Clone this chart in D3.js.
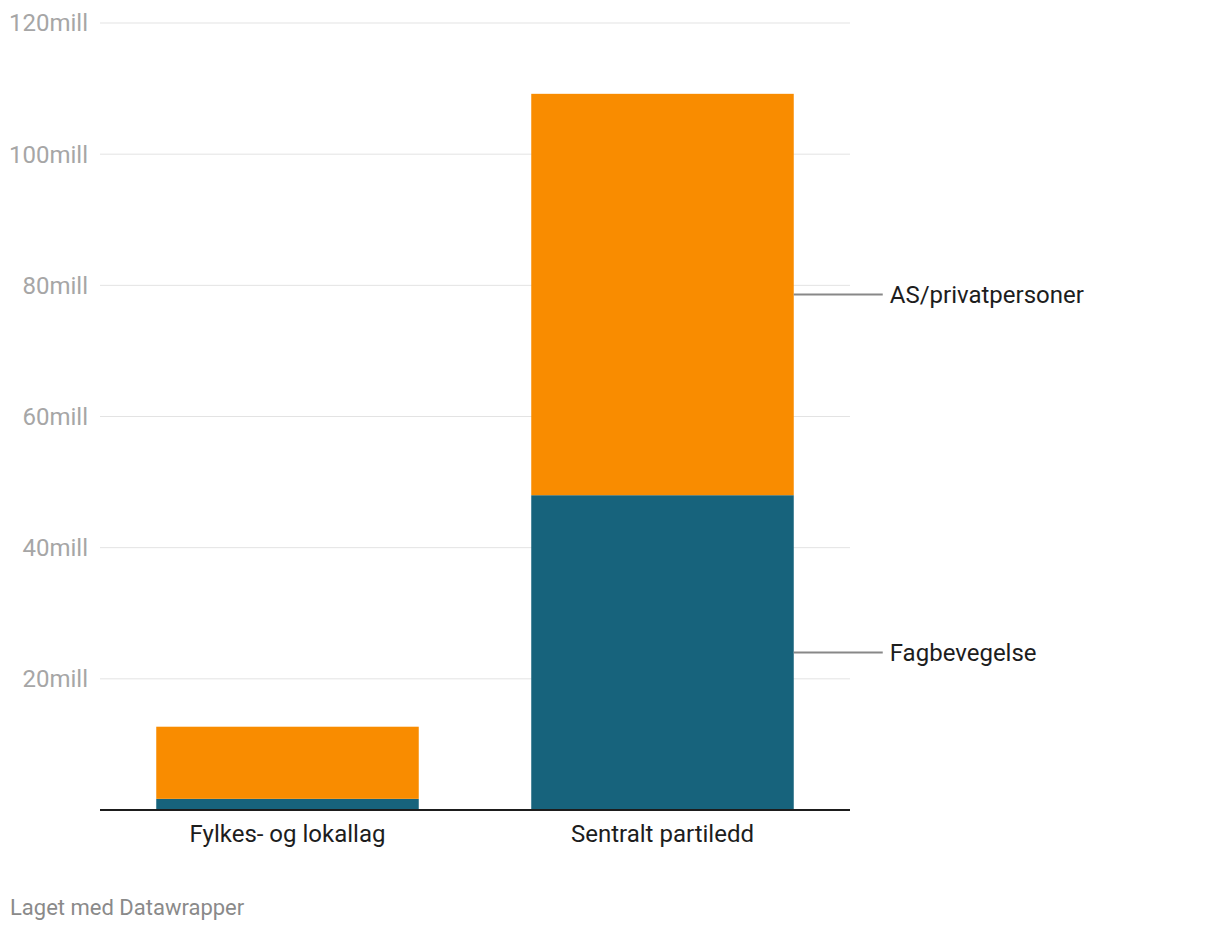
<!DOCTYPE html>
<html><head><meta charset="utf-8">
<script src="https://cdn.jsdelivr.net/npm/d3@7"></script>
<style>body{margin:0;background:#fff;font-family:Roboto,sans-serif;}</style>
</head><body>
<svg id="chart" width="1220" height="932"></svg>
<script>
const categories = ["Fylkes- og lokallag", "Sentralt partiledd"];
const seriesNames = ["Fagbevegelse", "AS/privatpersoner"];
const fagbevegelse = [1.7, 48.0];
const privat = [11.0, 61.2];
const yTicks = [20, 40, 60, 80, 100, 120];
const colors = ["#17637c", "#f98c00"];

const svg = d3.select("#chart");
const x = d3.scaleBand().domain(categories).range([100, 850]).paddingInner(0.3).paddingOuter(0.15);
const y = d3.scaleLinear().domain([0, 120]).range([810, 23]);

const gGrid = svg.append("g");
yTicks.forEach(t => {
  gGrid.append("line").attr("x1", 100).attr("x2", 850).attr("y1", y(t)).attr("y2", y(t))
    .attr("stroke", "#e3e3e3").attr("stroke-width", 1);
  gGrid.append("text").attr("x", 88).attr("y", y(t)).attr("dy", "0.35em").attr("text-anchor", "end")
    .attr("fill", "#a6a6a6").attr("font-size", 24).text(t + "mill");
});

const data = categories.map((c, i) => ({cat: c, Fagbevegelse: fagbevegelse[i], "AS/privatpersoner": privat[i]}));
const stacked = d3.stack().keys(seriesNames)(data);

stacked.forEach((s, si) => {
  svg.append("g").selectAll("rect").data(s).join("rect")
    .attr("x", d => x(d.data.cat)).attr("width", x.bandwidth())
    .attr("y", d => y(d[1])).attr("height", d => y(d[0]) - y(d[1]))
    .attr("fill", colors[si]);
});

// baseline
svg.append("line").attr("x1", 100).attr("x2", 850).attr("y1", y(0)).attr("y2", y(0))
  .attr("stroke", "#1d1d1d").attr("stroke-width", 2);

// category labels
categories.forEach(c => {
  svg.append("text").attr("x", x(c) + x.bandwidth() / 2).attr("y", 834).attr("dy", "0.35em")
    .attr("text-anchor", "middle").attr("fill", "#1d1d1d").attr("font-size", 24).text(c);
});

// series labels on last bar
const last = categories.length - 1;
stacked.forEach((s, si) => {
  const d = s[last];
  const ym = (y(d[0]) + y(d[1])) / 2;
  const xr = x(categories[last]) + x.bandwidth();
  svg.append("line").attr("x1", xr).attr("x2", xr + 89).attr("y1", ym).attr("y2", ym)
    .attr("stroke", "#888").attr("stroke-width", 2);
  svg.append("text").attr("x", xr + 96).attr("y", ym).attr("dy", "0.35em")
    .attr("fill", "#1d1d1d").attr("font-size", 24).text(seriesNames[si]);
});

svg.append("text").attr("x", 10).attr("y", 907).attr("dy", "0.35em")
  .attr("fill", "#8a8a8a").attr("font-size", 22).text("Laget med Datawrapper");
</script>
</body></html>
